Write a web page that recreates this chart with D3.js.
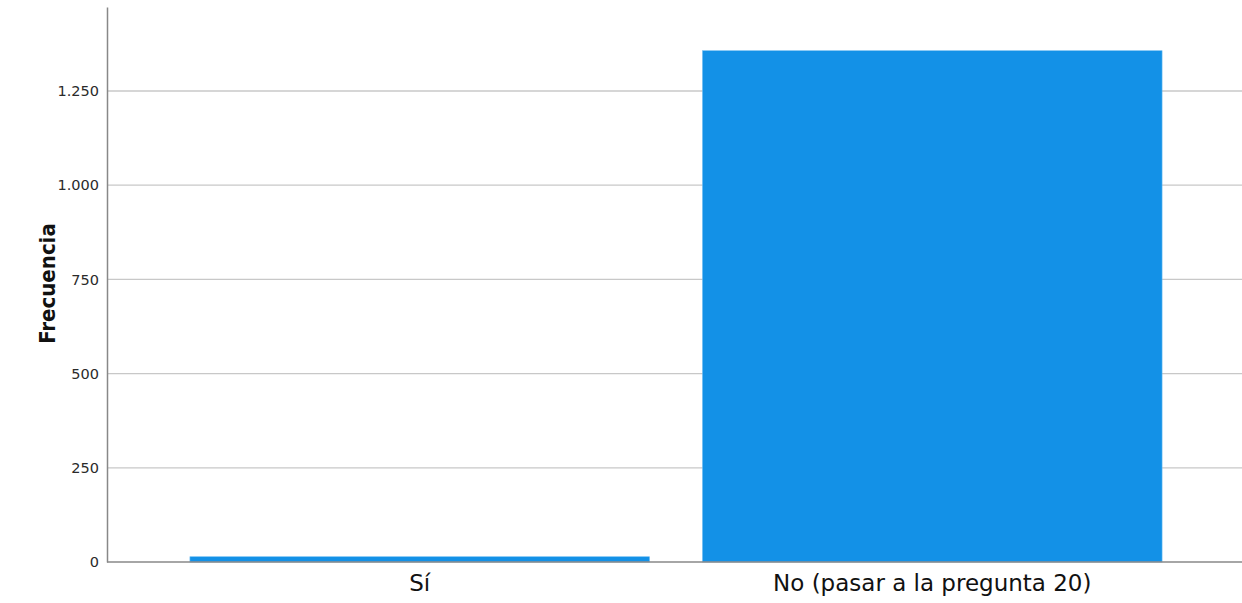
<!DOCTYPE html>
<html><head><meta charset="utf-8">
<script src="https://cdn.jsdelivr.net/npm/d3@7/dist/d3.min.js"></script>
<style>body{margin:0;background:#fff}svg{display:block}</style>
</head><body>
<svg id="c" width="1242" height="603"></svg>
<script>
const categories = ["Sí", "No (pasar a la pregunta 20)"];
const frequencies = [14, 1357];
const yTicks = [0, 250, 500, 750, 1000, 1250];
const yTitle = "Frecuencia";

const svg = d3.select("#c");
const W = 1242, H = 603;
const esLocale = d3.formatLocale({decimal: ",", thousands: ".", grouping: [3], currency: ["", "€"]});
const fmt = esLocale.format(",d");

const x = d3.scaleBand().domain(categories).range([107, 1245]).paddingInner(0.1033).paddingOuter(0.1618);
const y = d3.scaleLinear().domain([0, 1473]).range([562, 7]);

// gridlines
svg.append("g").selectAll("line").data(yTicks.filter(d => d > 0)).join("line")
  .attr("x1", 108).attr("x2", W).attr("y1", d => y(d)).attr("y2", d => y(d))
  .attr("stroke", "#c8c8c8").attr("stroke-width", 1.3);

// bars
svg.append("g").selectAll("rect").data(categories).join("rect")
  .attr("x", d => x(d)).attr("width", x.bandwidth())
  .attr("y", (d, i) => y(frequencies[i])).attr("height", (d, i) => y(0) - y(frequencies[i]))
  .attr("fill", "#1391e7").attr("stroke", "#6fbdf2").attr("stroke-width", 0.6);

// y axis
const yAxis = d3.axisLeft(y).tickValues(yTicks).tickFormat(fmt).tickSizeInner(0).tickSizeOuter(0).tickPadding(8);
const gy = svg.append("g").attr("transform", "translate(107,0)").call(yAxis);
gy.select(".domain").attr("stroke", "#888").attr("stroke-width", 1.5);
gy.selectAll(".tick line").remove();
gy.selectAll(".tick text").attr("font-family", "DejaVu Sans").attr("font-size", 14.5).attr("fill", "#2a2a2a");

// baseline
svg.append("line").attr("x1", 107).attr("x2", W).attr("y1", y(0)).attr("y2", y(0))
  .attr("stroke", "#888").attr("stroke-width", 1.6);

// x labels
svg.append("g").selectAll("text").data(categories).join("text")
  .attr("x", d => x(d) + x.bandwidth() / 2).attr("y", 591)
  .attr("text-anchor", "middle").attr("font-family", "DejaVu Sans").attr("font-size", 23)
  .attr("fill", "#111").text(d => d);

// y title
svg.append("text").attr("transform", "translate(55,283.5) rotate(-90)")
  .attr("text-anchor", "middle").attr("font-family", "DejaVu Sans Condensed, DejaVu Sans")
  .attr("font-weight", "bold").attr("font-size", 22).attr("fill", "#111").text(yTitle);
</script>
</body></html>
